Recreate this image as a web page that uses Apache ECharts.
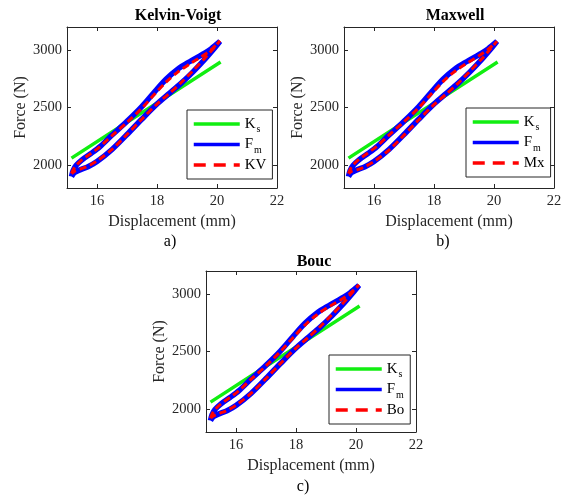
<!DOCTYPE html>
<html>
<head>
<meta charset="utf-8">
<script src="https://cdn.jsdelivr.net/npm/echarts@6/dist/echarts.min.js"></script>
<style>
html, body { margin: 0; padding: 0; background: #fff; }
#main { width: 571px; height: 496px; }
</style>
</head>
<body>
<div id="main"></div>
<script>
// displacement (mm) along the loading / unloading branch of the loop
const dispUp = [15.15, 15.2, 15.3, 15.5, 15.8, 16.1, 16.5, 17.0, 17.5, 17.9, 18.3, 18.7, 19.1, 19.5, 19.8, 20.1]
const dispDown = [20.1, 19.9, 19.6, 19.2, 18.8, 18.4, 18.0, 17.5, 17.0, 16.5, 16.0, 15.7, 15.45, 15.25, 15.15]

// measured force Fm (N)
const fmUp = [1900, 1950, 1995, 2045, 2100, 2160, 2260, 2380, 2510, 2630, 2745, 2835, 2900, 2960, 3010, 3075]
const fmDown = [3075, 3010, 2920, 2810, 2710, 2620, 2530, 2400, 2265, 2135, 2030, 1985, 1960, 1935, 1900]

// model forces (N)
const kvUp = [1925, 1955, 1995, 2045, 2100, 2160, 2255, 2370, 2495, 2610, 2720, 2810, 2880, 2945, 3000, 3080]
const kvDown = [3080, 3020, 2930, 2820, 2715, 2620, 2530, 2400, 2265, 2135, 2035, 1990, 1965, 1945, 1925]
const mxUp = [1925, 1960, 2000, 2050, 2105, 2165, 2260, 2375, 2500, 2615, 2725, 2815, 2885, 2950, 3005, 3075]
const mxDown = [3075, 3015, 2925, 2815, 2710, 2615, 2525, 2395, 2260, 2130, 2030, 1985, 1960, 1945, 1925]
const boUp = [1920, 1955, 1995, 2045, 2100, 2160, 2258, 2375, 2505, 2620, 2730, 2820, 2890, 2950, 3005, 3080]
const boDown = [3080, 3020, 2930, 2820, 2715, 2620, 2530, 2400, 2265, 2135, 2032, 1988, 1962, 1940, 1920]

// spring force Ks (N)
const ksDisp = [15.15, 17.0, 18.5, 20.12]
const ksForce = [2060, 2371, 2623, 2895]

const xTicks = [16, 18, 20, 22]
const yTicks = [2000, 2500, 3000]

const serif = 'Liberation Serif'
const axisColor = '#262626'

function pairs(xs, ys) {
    return xs.map((x, i) => [x, ys[i]])
}
function loop(up, down) {
    return pairs(dispUp, up).concat(pairs(dispDown, down))
}

const panels = [
    { title: 'Kelvin-Voigt', model: 'KV', up: kvUp, down: kvDown, tag: 'a)',
      grid: { left: 67, top: 27 }, titlePos: [178, 16], tagPos: [170, 242], legendPos: [187, 110] },
    { title: 'Maxwell', model: 'Mx', up: mxUp, down: mxDown, tag: 'b)',
      grid: { left: 344, top: 27 }, titlePos: [455, 16], tagPos: [443, 242], legendPos: [466, 108] },
    { title: 'Bouc', model: 'Bo', up: boUp, down: boDown, tag: 'c)',
      grid: { left: 206, top: 271 }, titlePos: [314, 262], tagPos: [303, 487], legendPos: [329, 355] }
]

const grids = [], xAxes = [], yAxes = [], series = [], legends = [], graphics = []

panels.forEach((p, i) => {
    grids.push({ left: p.grid.left, top: p.grid.top, width: 210, height: 161, containLabel: false })

    const line = { show: true, onZero: false, lineStyle: { color: axisColor, width: 1 } }
    xAxes.push({
        gridIndex: i, type: 'value', min: 15, max: 22, position: 'bottom',
        axisLine: line,
        axisTick: { inside: true, length: 4, customValues: xTicks, lineStyle: { color: axisColor } },
        axisLabel: { customValues: xTicks, margin: 6, fontFamily: serif, fontSize: 14.5, color: axisColor },
        splitLine: { show: false },
        name: 'Displacement (mm)', nameLocation: 'middle', nameGap: 26,
        nameTextStyle: { fontFamily: serif, fontSize: 16, color: axisColor }
    })
    xAxes.push({
        gridIndex: i, type: 'value', min: 15, max: 22, position: 'top',
        axisLine: line,
        axisTick: { inside: true, length: 4, customValues: xTicks, lineStyle: { color: axisColor } },
        axisLabel: { show: false },
        splitLine: { show: false }
    })
    yAxes.push({
        gridIndex: i, type: 'value', min: 1800, max: 3200, position: 'left',
        axisLine: line,
        axisTick: { inside: true, length: 4, customValues: yTicks, lineStyle: { color: axisColor } },
        axisLabel: { customValues: yTicks, margin: 5, fontFamily: serif, fontSize: 14.5, color: axisColor,
                     formatter: v => String(v) },
        splitLine: { show: false },
        name: 'Force (N)', nameLocation: 'middle', nameGap: 36,
        nameTextStyle: { fontFamily: serif, fontSize: 16, color: axisColor }
    })
    yAxes.push({
        gridIndex: i, type: 'value', min: 1800, max: 3200, position: 'right',
        axisLine: line,
        axisTick: { inside: true, length: 4, customValues: yTicks, lineStyle: { color: axisColor } },
        axisLabel: { show: false },
        splitLine: { show: false }
    })

    series.push({
        name: 'Ks', type: 'line', xAxisIndex: 2 * i, yAxisIndex: 2 * i,
        data: pairs(ksDisp, ksForce), symbol: 'none',
        lineStyle: { color: '#11ee11', width: 3.5 }, itemStyle: { color: '#11ee11' }
    })
    series.push({
        name: 'Fm', type: 'line', xAxisIndex: 2 * i, yAxisIndex: 2 * i,
        data: loop(fmUp, fmDown), symbol: 'none', smooth: 0.3,
        lineStyle: { color: '#0000ff', width: 5.5 }, itemStyle: { color: '#0000ff' }
    })
    series.push({
        name: p.model, type: 'line', xAxisIndex: 2 * i, yAxisIndex: 2 * i,
        data: loop(p.up, p.down), symbol: 'none', smooth: 0.3,
        lineStyle: { color: '#ff0000', width: 3, type: [7, 4] }, itemStyle: { color: '#ff0000' }
    })

    legends.push({
        left: p.legendPos[0], top: p.legendPos[1], orient: 'vertical',
        padding: [6, 6, 6, 5], itemWidth: 46, itemHeight: 20, itemGap: 2,
        borderColor: axisColor, borderWidth: 1, backgroundColor: '#fff',
        selectedMode: false,
        itemStyle: { color: 'rgba(0,0,0,0)', borderColor: 'rgba(0,0,0,0)', borderWidth: 0, opacity: 0 },
        data: [
            { name: 'Ks', lineStyle: { width: 3.5 } },
            { name: 'Fm', lineStyle: { width: 3.5 } },
            { name: p.model, lineStyle: { type: [12, 8], width: 3.5 } }
        ],
        formatter: name => {
            if (name === 'Ks') return '{b|K}{s|s}'
            if (name === 'Fm') return '{b|F}{s|m}'
            return '{b|' + name + '}'
        },
        textStyle: {
            fontFamily: serif, fontSize: 15, color: '#000',
            rich: {
                b: { fontFamily: serif, fontSize: 15, color: '#000' },
                s: { fontFamily: serif, fontSize: 10, color: '#000', padding: [11, 0, 0, 1] }
            }
        }
    })

    graphics.push({
        type: 'text', x: p.titlePos[0], y: p.titlePos[1],
        style: { text: p.title, font: 'bold 16px "Liberation Serif"', fill: '#000', textAlign: 'center', textVerticalAlign: 'middle' }
    })
    graphics.push({
        type: 'text', x: p.tagPos[0], y: p.tagPos[1],
        style: { text: p.tag, font: '16px "Liberation Serif"', fill: '#000', textAlign: 'center', textVerticalAlign: 'middle' }
    })
})

const myChart = echarts.init(document.getElementById('main'))
myChart.setOption({
    animation: false,
    backgroundColor: '#fff',
    grid: grids,
    xAxis: xAxes,
    yAxis: yAxes,
    series: series,
    legend: legends,
    graphic: graphics
})
</script>
</body>
</html>
